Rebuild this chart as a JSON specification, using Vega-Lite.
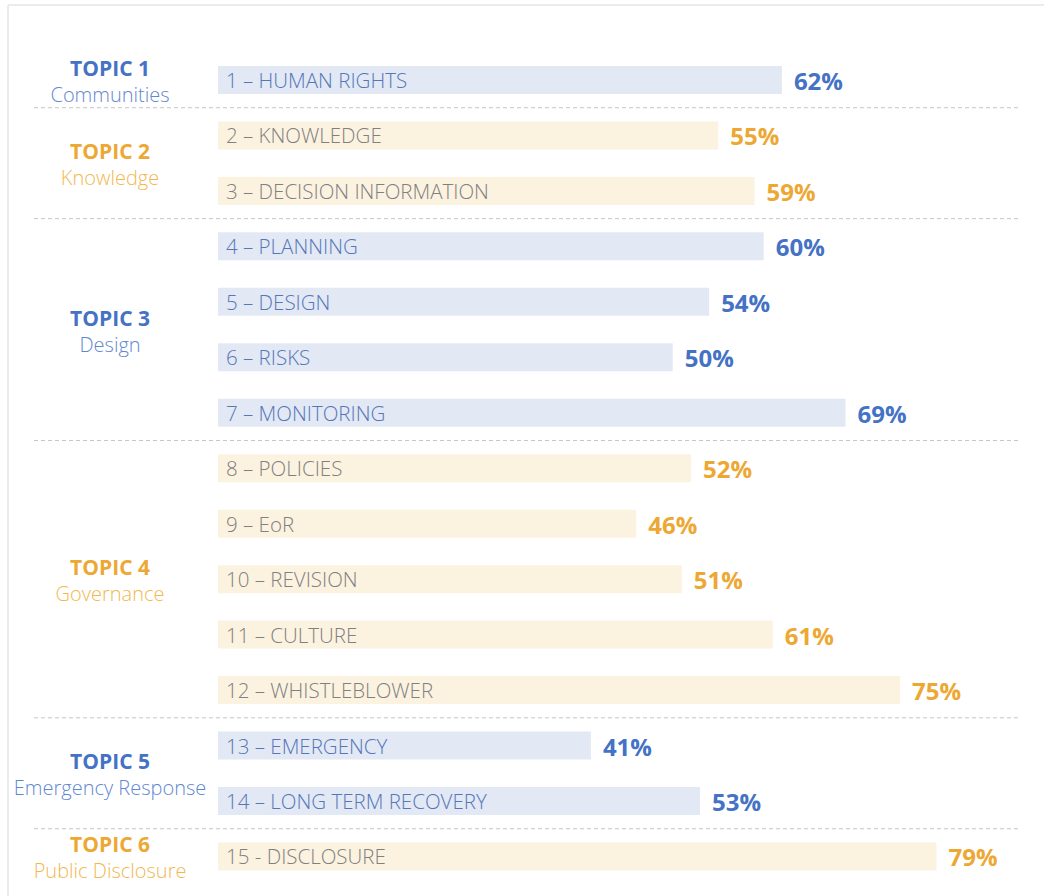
{
  "$schema": "https://vega.github.io/schema/vega-lite/v6.json",
  "autosize": {"type": "none"},
  "padding": {"left": 8, "top": 5, "right": 0, "bottom": 0},
  "width": 1036,
  "height": 891,
  "background": "white",
  "config": {
    "view": {"stroke": null},
    "font": "Open Sans"
  },
  "datasets": {
    "items": [
      {"n": 1, "label": "1 – HUMAN RIGHTS", "pct": 0.62, "topic": 1},
      {"n": 2, "label": "2 – KNOWLEDGE", "pct": 0.55, "topic": 2},
      {"n": 3, "label": "3 – DECISION INFORMATION", "pct": 0.59, "topic": 2},
      {"n": 4, "label": "4 – PLANNING", "pct": 0.60, "topic": 3},
      {"n": 5, "label": "5 – DESIGN", "pct": 0.54, "topic": 3},
      {"n": 6, "label": "6 – RISKS", "pct": 0.50, "topic": 3},
      {"n": 7, "label": "7 – MONITORING", "pct": 0.69, "topic": 3},
      {"n": 8, "label": "8 – POLICIES", "pct": 0.52, "topic": 4},
      {"n": 9, "label": "9 – EoR", "pct": 0.46, "topic": 4},
      {"n": 10, "label": "10 – REVISION", "pct": 0.51, "topic": 4},
      {"n": 11, "label": "11 – CULTURE", "pct": 0.61, "topic": 4},
      {"n": 12, "label": "12 – WHISTLEBLOWER", "pct": 0.75, "topic": 4},
      {"n": 13, "label": "13 – EMERGENCY", "pct": 0.41, "topic": 5},
      {"n": 14, "label": "14 – LONG TERM RECOVERY", "pct": 0.53, "topic": 5},
      {"n": 15, "label": "15 - DISCLOSURE", "pct": 0.79, "topic": 6}
    ],
    "topics": [
      {"topic": 1, "title": "TOPIC 1", "sub": "Communities"},
      {"topic": 2, "title": "TOPIC 2", "sub": "Knowledge"},
      {"topic": 3, "title": "TOPIC 3", "sub": "Design"},
      {"topic": 4, "title": "TOPIC 4", "sub": "Governance"},
      {"topic": 5, "title": "TOPIC 5", "sub": "Emergency Response"},
      {"topic": 6, "title": "TOPIC 6", "sub": "Public Disclosure"}
    ],
    "seps": [
      {"b": 1.5}, {"b": 3.5}, {"b": 7.5}, {"b": 12.5}, {"b": 14.5}
    ]
  },
  "layer": [
    {
      "data": {"name": "seps"},
      "mark": {"type": "rule", "stroke": "#c6c6c6", "strokeWidth": 1, "strokeDash": [4, 3]},
      "encoding": {
        "y": {"field": "b", "type": "quantitative", "scale": {"domain": [-0.352, 15.713], "reverse": true, "nice": false, "zero": false, "padding": 0}, "axis": null},
        "x": {"datum": -0.2023, "type": "quantitative", "scale": {"domain": [-0.2309, 0.9082], "nice": false, "zero": false, "padding": 0}, "axis": null},
        "x2": {"datum": 0.8796}
      }
    },
    {
      "data": {"values": [{}]},
      "mark": {"type": "rule", "stroke": "#ebebeb", "strokeWidth": 2},
      "encoding": {
        "y": {"datum": -0.352, "type": "quantitative"},
        "x": {"datum": -0.2309, "type": "quantitative"},
        "x2": {"datum": 0.9082}
      }
    },
    {
      "data": {"values": [{}]},
      "mark": {"type": "rule", "stroke": "#ebebeb", "strokeWidth": 2},
      "encoding": {
        "x": {"datum": -0.2309, "type": "quantitative"},
        "y": {"datum": -0.352, "type": "quantitative"},
        "y2": {"datum": 15.713}
      }
    },
    {
      "data": {"name": "items"},
      "mark": {"type": "bar", "orient": "horizontal", "size": 28},
      "encoding": {
        "y": {"field": "n", "type": "quantitative"},
        "x": {"field": "pct", "type": "quantitative"},
        "x2": {"datum": 0},
        "color": {
          "condition": {"test": "datum.topic % 2 == 1", "value": "#e2e8f4"},
          "value": "#fcf2e0"
        }
      }
    },
    {
      "data": {"name": "items"},
      "mark": {"type": "text", "align": "left", "baseline": "middle", "dx": 8, "dy": 2, "fontSize": 20.5, "fontWeight": 300},
      "encoding": {
        "y": {"field": "n", "type": "quantitative"},
        "x": {"datum": 0, "type": "quantitative"},
        "text": {"field": "label"},
        "color": {
          "condition": {"test": "datum.topic % 2 == 1", "value": "#5577b8"},
          "value": "#808080"
        }
      }
    },
    {
      "data": {"name": "items"},
      "mark": {"type": "text", "align": "left", "baseline": "middle", "dx": 12, "dy": 3, "fontSize": 24, "fontWeight": "bold"},
      "encoding": {
        "y": {"field": "n", "type": "quantitative"},
        "x": {"field": "pct", "type": "quantitative"},
        "text": {"field": "pct", "format": ".0%"},
        "color": {
          "condition": {"test": "datum.topic % 2 == 1", "value": "#4472c4"},
          "value": "#eda833"
        }
      }
    },
    {
      "data": {"name": "items"},
      "transform": [
        {"aggregate": [{"op": "mean", "field": "n", "as": "mid"}], "groupby": ["topic"]},
        {"lookup": "topic", "from": {"data": {"name": "topics"}, "key": "topic", "fields": ["title", "sub"]}}
      ],
      "layer": [
        {
          "mark": {"type": "text", "align": "center", "baseline": "middle", "dy": -10, "fontSize": 21, "fontWeight": "bold"},
          "encoding": {
            "y": {"field": "mid", "type": "quantitative"},
            "x": {"datum": -0.1187, "type": "quantitative"},
            "text": {"field": "title"},
            "color": {
              "condition": {"test": "datum.topic % 2 == 1", "value": "#4472c4"},
              "value": "#eda833"
            }
          }
        },
        {
          "mark": {"type": "text", "align": "center", "baseline": "middle", "dy": 16, "fontSize": 20, "fontWeight": 300},
          "encoding": {
            "y": {"field": "mid", "type": "quantitative"},
            "x": {"datum": -0.1187, "type": "quantitative"},
            "text": {"field": "sub"},
            "color": {
              "condition": {"test": "datum.topic % 2 == 1", "value": "#5f88d0"},
              "value": "#f2b84f"
            }
          }
        }
      ]
    }
  ]
}
